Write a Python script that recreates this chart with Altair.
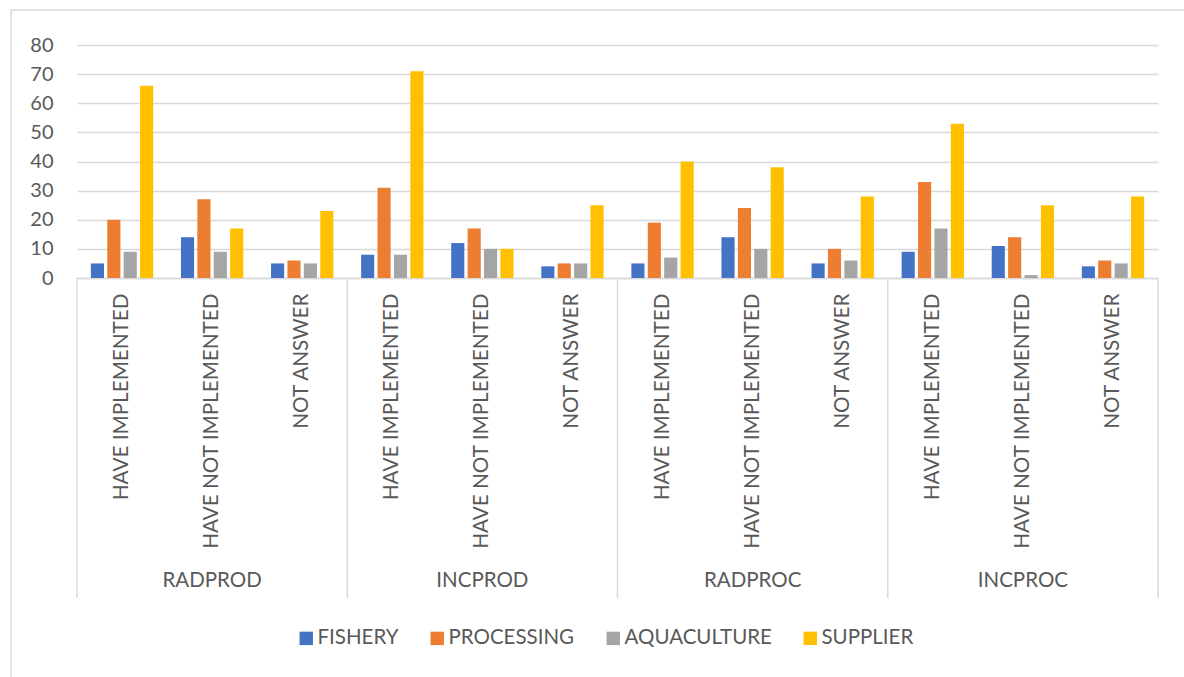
import altair as alt
import pandas as pd

# Survey responses per sector, grouped by indicator and answer
groups = ["RADPROD", "INCPROD", "RADPROC", "INCPROC"]
answers = ["HAVE IMPLEMENTED", "HAVE NOT IMPLEMENTED", "NOT ANSWER"]
sectors = ["FISHERY", "PROCESSING", "AQUACULTURE", "SUPPLIER"]
colors = ["#4472C4", "#ED7D31", "#A5A5A5", "#FFC000"]

fishery = [5, 14, 5, 8, 12, 4, 5, 14, 5, 9, 11, 4]
processing = [20, 27, 6, 31, 17, 5, 19, 24, 10, 33, 14, 6]
aquaculture = [9, 9, 5, 8, 10, 5, 7, 10, 6, 17, 1, 5]
supplier = [66, 17, 23, 71, 10, 25, 40, 38, 28, 53, 25, 28]

group_edges = [0, 1, 2, 3, 4]

W, H = 1081, 233
FONT = "Lato"
GRAY_TEXT = "#595959"
GRID = "#d9d9d9"

categories = [f"{g}|{a}" for g in groups for a in answers]
series = dict(zip(sectors, [fishery, processing, aquaculture, supplier]))
rows = []
for s in sectors:
    for cat, v in zip(categories, series[s]):
        rows.append({"cat": cat, "sector": s, "value": v})
df = pd.DataFrame(rows)

bars = alt.Chart(df).mark_bar().encode(
    x=alt.X(
        "cat:N",
        sort=categories,
        scale=alt.Scale(paddingInner=0.308, paddingOuter=0.154),
        axis=alt.Axis(
            title=None,
            labelExpr="split(datum.label, '|')[1]",
            labelAngle=-90,
            labelAlign="right",
            labelBaseline="middle",
            labelPadding=15,
            labelLimit=0,
            labelFont=FONT,
            labelFontSize=20.7,
            labelColor=GRAY_TEXT,
            ticks=False,
            domainColor=GRID,
            domainWidth=1.5,
            grid=False,
        ),
    ),
    xOffset=alt.XOffset(
        "sector:N", sort=sectors, scale=alt.Scale(paddingInner=0.2, paddingOuter=0)
    ),
    y=alt.Y(
        "value:Q",
        scale=alt.Scale(domain=[0, 80], nice=False),
        axis=alt.Axis(
            title=None,
            values=list(range(0, 81, 10)),
            ticks=False,
            domain=False,
            labelPadding=24,
            labelFont=FONT,
            labelFontSize=20,
            labelColor=GRAY_TEXT,
            gridColor=GRID,
            gridWidth=1.5,
        ),
    ),
    color=alt.Color(
        "sector:N",
        sort=sectors,
        scale=alt.Scale(domain=sectors, range=colors),
        legend=alt.Legend(
            title=None,
            orient="none",
            direction="horizontal",
            legendX=219,
            legendY=583,
            symbolType="square",
            symbolSize=180,
            symbolStrokeWidth=0,
            symbolOpacity=1,
            labelFont=FONT,
            labelFontSize=20.5,
            labelColor=GRAY_TEXT,
            labelOffset=1,
            columnPadding=28,
        ),
    ),
)

group_df = pd.DataFrame({"group": groups})
group_labels = alt.Chart(group_df).mark_text(
    font=FONT, fontSize=20.5, color=GRAY_TEXT, baseline="middle"
).encode(
    x=alt.X(
        "group:N",
        sort=groups,
        scale=alt.Scale(paddingInner=0, paddingOuter=0),
        axis=None,
    ),
    y=alt.value(H + 303),
    text="group:N",
)

edge_df = pd.DataFrame({"edge": group_edges})
separators = alt.Chart(edge_df).mark_rule(color=GRID, strokeWidth=1.5).encode(
    x=alt.X("edge:Q", scale=alt.Scale(domain=[0, 4], nice=False), axis=None),
    y=alt.value(H),
    y2=alt.value(H + 320),
)

frame = alt.Chart(pd.DataFrame({"k": [0]})).mark_rect(
    filled=False, stroke=GRID, strokeWidth=1.5
).encode(
    x=alt.value(-66),
    x2=alt.value(W + 60),
    y=alt.value(-35),
    y2=alt.value(H + 420),
)

chart = (
    alt.layer(frame, bars, separators, group_labels)
    .resolve_scale(x="independent")
    .properties(
        width=W,
        height=H,
        autosize=alt.AutoSizeParams(type="none"),
        padding={"left": 77, "top": 45, "right": 26, "bottom": 399},
        background="white",
    )
    .configure_view(stroke=None)
)

chart.save("out.html", embed_options={"renderer": "svg", "actions": False})
